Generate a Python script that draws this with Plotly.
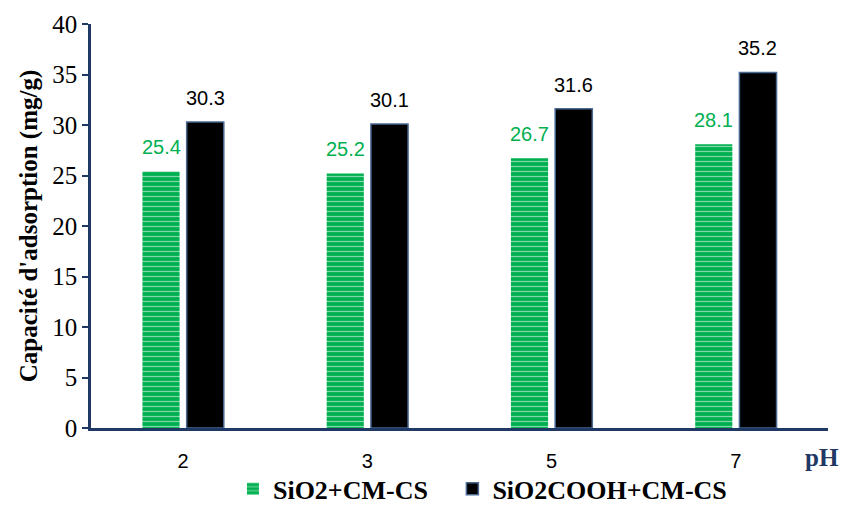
import plotly.graph_objects as go

categories = ["2", "3", "5", "7"]
series1_name = "SiO2+CM-CS"
series1_values = [25.4, 25.2, 26.7, 28.1]
series2_name = "SiO2COOH+CM-CS"
series2_values = [30.3, 30.1, 31.6, 35.2]
y_ticks = [0, 5, 10, 15, 20, 25, 30, 35, 40]

GREEN = "#00B050"
NAVY = "#1F3864"
SERIF = "Liberation Serif, Times New Roman, serif"
SANS = "Liberation Sans, Arial, sans-serif"

fig = go.Figure()
fig.add_trace(go.Bar(
    x=categories, y=series1_values, name=f"<b>{series1_name}</b>&nbsp;&nbsp;&nbsp;",
    marker=dict(color=GREEN, line=dict(width=0),
                pattern=dict(shape="-", fgcolor="white", bgcolor=GREEN,
                             size=5, solidity=0.25, fillmode="overlay")),
))
fig.add_trace(go.Bar(
    x=categories, y=series2_values, name=f"<b>{series2_name}</b>",
    marker=dict(color="black", line=dict(width=1.5, color="#4A6A94")),
))

for i, v in enumerate(series1_values):
    fig.add_annotation(x=i, y=v, text=f"{v:.1f}", showarrow=False, xshift=-22,
                       yanchor="bottom", yshift=11,
                       font=dict(family=SANS, size=20, color=GREEN))
for i, v in enumerate(series2_values):
    fig.add_annotation(x=i, y=v, text=f"{v:.1f}", showarrow=False, xshift=22,
                       yanchor="bottom", yshift=11,
                       font=dict(family=SANS, size=20, color="black"))

fig.add_annotation(xref="paper", yref="paper", x=0.992, y=-0.072, text="<b>pH</b>",
                   showarrow=False, xanchor="center", yanchor="middle", width=50,
                   font=dict(family=SERIF, size=25, color=NAVY))

fig.update_layout(
    width=841, height=506,
    margin=dict(l=91, r=13, t=24, b=78, autoexpand=False),
    paper_bgcolor="white", plot_bgcolor="white",
    barmode="group", bargap=0.52, bargroupgap=0.16,
    showlegend=True,
    legend=dict(orientation="h", xref="container", yref="container",
                x=0.277, xanchor="left", y=0.034, yanchor="middle",
                bgcolor="rgba(0,0,0,0)",
                font=dict(family=SERIF, size=26, color="black"),
                itemwidth=30, traceorder="normal", tracegroupgap=0),
    font=dict(family=SERIF, color="black"),
)
fig.update_xaxes(type="category", range=[-0.5, 3.5], showline=True, linecolor=NAVY,
                 linewidth=2.5, ticks="", showgrid=False, ticklabelstandoff=13,
                 tickfont=dict(family=SANS, size=20, color="black"))
fig.update_yaxes(range=[0, 40], tickvals=y_ticks, showline=True, linecolor=NAVY,
                 linewidth=2.5, ticks="outside", ticklen=6, tickcolor=NAVY, tickwidth=1.5,
                 showgrid=False, zeroline=False,
                 tickfont=dict(family=SERIF, size=25, color="black"),
                 title=dict(text="<b>Capacité d'adsorption (mg/g)</b>",
                            font=dict(family=SERIF, size=25, color="black"), standoff=8))

fig.write_html("out.html", config={"displayModeBar": False},
               post_script="document.body.style.margin='0';document.body.style.overflow='hidden';")
